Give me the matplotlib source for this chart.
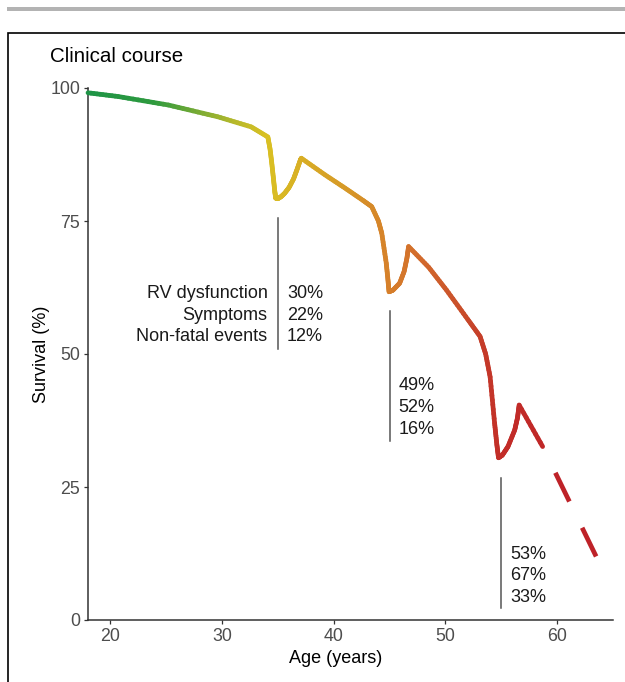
import numpy as np
import matplotlib
matplotlib.use("Agg")
import matplotlib.pyplot as plt
from matplotlib.collections import LineCollection
from matplotlib.colors import LinearSegmentedColormap
from matplotlib.patches import Rectangle

plt.rcParams['font.family'] = ['Liberation Sans', 'DejaVu Sans']

# ---- data ----
age = [18.0, 20.7, 25.2, 29.6, 32.6, 34.1, 34.3, 34.45, 34.6, 34.72, 34.8,
       35.0, 35.3, 35.6, 36.0, 36.4, 36.7, 37.0, 37.1,
       39.2, 41.0, 42.6, 43.4, 44.0, 44.3, 44.7, 44.85, 44.95,
       45.3, 45.9, 46.3, 46.55, 46.7,
       48.5, 50.1, 52.0, 53.1, 53.6, 54.0, 54.4, 54.6, 54.75,
       55.1, 55.6, 56.2, 56.45, 56.6, 58.7]
survival = [99.1, 98.4, 96.8, 94.6, 92.7, 90.8, 88.5, 85.9, 83.0, 80.6, 79.3,
            79.2, 79.6, 80.2, 81.3, 82.9, 84.6, 86.4, 86.8,
            83.7, 81.2, 78.9, 77.7, 75.0, 72.7, 67.1, 64.0, 61.7,
            62.0, 63.3, 65.5, 68.0, 70.2,
            66.3, 62.0, 56.5, 53.3, 50.0, 45.7, 37.0, 33.0, 30.5,
            31.0, 32.6, 35.7, 38.0, 40.4, 32.6]
dash_age = [58.7, 63.5]
dash_surv = [32.6, 11.9]

event_age = [35, 45, 55]
event_top = [75.5, 58.0, 26.6]
event_bottom = [51.0, 33.7, 2.2]
event_names = ["RV dysfunction", "Symptoms", "Non-fatal events"]
event_pct = [["30%", "22%", "12%"],
             ["49%", "52%", "16%"],
             ["53%", "67%", "33%"]]
text_first_y = [61.4, 44.0, 12.4]

xticks = [20, 30, 40, 50, 60]
yticks = [0, 25, 50, 75, 100]

# ---- styling ----
color_nodes = [(18, '#1e9446'), (24, '#2e9a3e'), (28, '#78ab34'), (31, '#b3b82c'),
               (34, '#d9c023'), (37, '#d8b025'), (42, '#d69428'), (45, '#d6802a'),
               (48, '#d26a2c'), (52, '#c84a2a'), (55, '#c22d28'), (63.5, '#be2228')]
lo, hi = color_nodes[0][0], color_nodes[-1][0]
cmap = LinearSegmentedColormap.from_list(
    'grad', [((a - lo) / (hi - lo), c) for a, c in color_nodes])

W, H = 625, 682
fig = plt.figure(figsize=(W / 100, H / 100), dpi=100)
fig.patch.set_facecolor('white')

# decorative frame
fig.patches.append(Rectangle((7 / W, 1 - 11 / H), 1, 4 / H, transform=fig.transFigure,
                             facecolor='#b3b3b3', edgecolor='none'))
fig.patches.append(Rectangle((8 / W, -0.05), 1.2, 1.05 - 33 / H, transform=fig.transFigure,
                             facecolor='none', edgecolor='black', linewidth=1.2))

ax = fig.add_axes([88 / W, 1 - 620 / H, 525 / W, 532 / H])
ax.set_facecolor('none')

# gradient curve
segs, cols = [], []
n_sub = 10
for i in range(len(age) - 1):
    for k in range(n_sub):
        t0, t1 = k / n_sub, (k + 1) / n_sub
        x0 = age[i] + (age[i + 1] - age[i]) * t0
        x1 = age[i] + (age[i + 1] - age[i]) * t1
        y0 = survival[i] + (survival[i + 1] - survival[i]) * t0
        y1 = survival[i] + (survival[i + 1] - survival[i]) * t1
        segs.append([(x0, y0), (x1, y1)])
        cols.append(cmap(((x0 + x1) / 2 - lo) / (hi - lo)))
lw = 3.4
lc = LineCollection(segs, colors=cols, linewidths=lw, capstyle='round',
                    joinstyle='round', clip_on=False, zorder=3)
ax.add_collection(lc)

ax.plot(dash_age, dash_surv, color=cmap(1.0), lw=lw,
        linestyle=(23 / lw, (23 / lw, 21 / lw)), solid_capstyle='butt',
        dash_capstyle='butt', zorder=3)

# event markers and annotations
fs = 13
for j, (xa, yt, yb) in enumerate(zip(event_age, event_top, event_bottom)):
    ax.plot([xa, xa], [yb, yt], color='#555555', lw=1.1, zorder=2)
    for i, p in enumerate(event_pct[j]):
        ax.annotate(p, (xa, text_first_y[j]), xytext=(6.5, -15.6 * i),
                    textcoords='offset points', ha='left', va='center',
                    fontsize=fs, color='#1a1a1a')
        if j == 0:
            ax.annotate(event_names[i], (xa, text_first_y[j]), xytext=(-7.5, -15.6 * i),
                        textcoords='offset points', ha='right', va='center',
                        fontsize=fs, color='#1a1a1a')

ax.set_xlim(18, 65)
ax.set_ylim(0, 100)
ax.set_xticks(xticks)
ax.set_yticks(yticks)
for s in ['top', 'right']:
    ax.spines[s].set_visible(False)
for s in ['left', 'bottom']:
    ax.spines[s].set_color('#333333')
    ax.spines[s].set_linewidth(1.1)
ax.tick_params(axis='both', length=3, width=0.9, color='#333333',
               labelcolor='#4d4d4d', labelsize=12.8)
ax.tick_params(axis='y', pad=2.5)
ax.tick_params(axis='x', pad=3)

ax.set_xlabel('Age (years)', fontsize=13, color='black')
ax.xaxis.set_label_coords((336 - 88) / 525, -(650 - 620) / 532)
ax.set_ylabel('Survival (%)', fontsize=13, color='black')
ax.yaxis.set_label_coords(-(88 - 50) / 525, 0.5)

fig.text(50 / W, 1 - 57 / H, 'Clinical course', fontsize=14.8, ha='left', va='center',
         color='black')

fig.savefig('out.png', dpi=100)
